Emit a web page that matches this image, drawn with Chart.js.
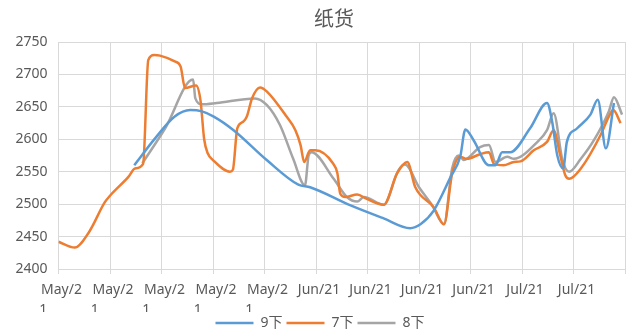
<!DOCTYPE html>
<html lang="zh">
<head>
    <meta charset="utf-8">
    <title>纸货</title>
    <style>
        body {
            margin: 0;
            background: #ffffff;
        }

        .chart-box {
            width: 626px;
            height: 335px;
        }
    </style>
</head>
<body>
    <div class="chart-box">
        <canvas id="paper-chart" width="626" height="335"></canvas>
    </div>

    <script src="https://cdn.jsdelivr.net/npm/chart.js@4.4.1/dist/chart.umd.min.js"></script>
    <script>
        // x axis runs in days from the first May label, one label every 7 days
        const xTickLabels = ["May/21", "May/21", "May/21", "May/21", "May/21",
                             "Jun/21", "Jun/21", "Jun/21", "Jun/21", "Jul/21", "Jul/21"];
        const yTicks = [2400, 2750, 50];

        const seriesNames = ["9下", "7下", "8下"];
        const seriesColors = ["#5B9BD5", "#ED7D31", "#A5A5A5"];

        // 9下
        const days9 = [10.3, 13.1, 15.8, 17.9, 19.5, 21.1, 23.8, 28.3, 32.6, 34.2, 39.7, 44.2,
                       47.8, 49.2, 51.0, 53.3, 54.6, 55.3, 56.4, 58.5, 59.4, 60.3, 61.4, 64.1,
                       66.4, 67.1, 67.8, 68.6, 69.1, 70.5, 72.3, 73.3, 74.4, 75.5];
        const values9 = [2560, 2601, 2635, 2645, 2643, 2635, 2614, 2568, 2530, 2526, 2498, 2478,
                         2463, 2469, 2490, 2542, 2573, 2615, 2599, 2560, 2560, 2580, 2580, 2617,
                         2656, 2627, 2575, 2555, 2596, 2617, 2638, 2661, 2586, 2656];

        // 7下
        const days7 = [0, 2.2, 4.1, 6.3, 7.0, 9.5, 10.4, 11.5, 12.2, 13.0, 13.8, 15.8, 16.6, 17.2,
                       18.7, 19.3, 19.8, 20.3, 21.0, 23.3, 23.7, 24.3, 25.1, 25.6, 26.3, 27.4,
                       28.3, 31.0, 32.2, 32.9, 33.4, 34.2, 34.9, 37.3, 37.9, 38.3, 39.0, 40.6,
                       41.9, 44.2, 46.0, 47.4, 48.5, 51.0, 52.4, 53.5, 54.6, 55.5, 57.3, 58.5,
                       59.2, 60.5, 61.9, 62.8, 64.6, 66.4, 67.3, 68.2, 68.9, 69.4, 71.0, 73.7,
                       74.8, 75.4, 76.4];
        const values7 = [2442, 2433, 2456, 2503, 2513, 2542, 2555, 2562, 2722, 2730, 2729, 2720, 2712, 2679,
                         2683, 2660, 2600, 2578, 2568, 2550, 2553, 2617, 2627, 2635, 2663, 2680,
                         2674, 2635, 2614, 2591, 2565, 2583, 2583, 2563, 2548, 2516, 2511, 2515,
                         2508, 2499, 2547, 2565, 2526, 2495, 2469, 2547, 2573, 2570, 2577, 2580,
                         2562, 2560, 2565, 2566, 2583, 2596, 2614, 2575, 2544, 2539, 2555, 2607,
                         2635, 2645, 2625];

        // 8下
        const days8 = [11.4, 14.5, 18.3, 18.6, 19.5, 21.5, 26.7, 28.3, 30.1, 31.9, 33.5, 34.0,
                       34.4, 37.4, 39.2, 40.6, 41.5, 44.2, 46.2, 47.1, 49.0, 50.8, 52.4, 53.5,
                       54.4, 55.1, 57.3, 58.5, 59.4, 61.0, 61.9, 65.1, 66.4, 67.3, 68.5, 69.4,
                       71.0, 72.8, 74.8, 75.5, 76.6];
        const values8 = [2563, 2617, 2692, 2663, 2654, 2656, 2663, 2653, 2622, 2570, 2529, 2575,
                         2580, 2539, 2511, 2504, 2511, 2499, 2552, 2561, 2526, 2498, 2469, 2555,
                         2575, 2568, 2588, 2591, 2565, 2573, 2570, 2596, 2614, 2640, 2568, 2550,
                         2570, 2599, 2643, 2665, 2638];

        const textColor = "#595959";
        const gridColor = "#D9D9D9";
        const baseFont = "'Noto Sans', 'Noto Sans CJK SC', sans-serif";

        const toPoints = (days, values) => days.map((d, i) => ({ x: d, y: values[i] }));

        function makeSeries(idx, days, values) {
            return {
                label: seriesNames[idx],
                data: toPoints(days, values),
                borderColor: seriesColors[idx],
                backgroundColor: seriesColors[idx],
                borderWidth: 2.5,
                pointRadius: 0,
                pointStyle: "line",
                cubicInterpolationMode: "monotone",
                fill: false
            };
        }

        // chart title sits a bit right of centre, like the original
        const titlePlugin = {
            id: "paperTitle",
            afterDraw(chart) {
                const ctx = chart.ctx;
                ctx.save();
                ctx.font = "20px 'Noto Sans CJK SC', sans-serif";
                ctx.fillStyle = textColor;
                ctx.textAlign = "center";
                ctx.textBaseline = "middle";
                ctx.fillText("纸货", 334, 18);
                ctx.restore();
            }
        };

        const chart = new Chart(document.getElementById("paper-chart"), {
            type: "line",
            data: {
                datasets: [
                    makeSeries(0, days9, values9),
                    makeSeries(1, days7, values7),
                    makeSeries(2, days8, values8)
                ]
            },
            plugins: [titlePlugin],
            options: {
                responsive: false,
                animation: false,
                layout: {
                    padding: { left: 15, right: 1, top: 42, bottom: -5 }
                },
                scales: {
                    x: {
                        type: "linear",
                        min: 0,
                        max: xTickLabels.length * 7,
                        afterFit: (scale) => {
                            scale.height = 43;
                            scale.paddingLeft = 0;
                            scale.paddingRight = 0;
                        },
                        grid: { color: gridColor, lineWidth: 1, tickLength: 5 },
                        border: { color: gridColor },
                        ticks: {
                            stepSize: 7,
                            autoSkip: false,
                            maxRotation: 0,
                            padding: 6,
                            labelOffset: 3,
                            color: textColor,
                            font: { family: baseFont, size: 14, lineHeight: 1.45 },
                            callback: (value) => {
                                const label = xTickLabels[Math.round(value / 7)];
                                if (!label) return "";
                                // the May labels are too wide for their slot and wrap
                                if (label.startsWith("May")) return [label.slice(0, 5), label.slice(5).padEnd(11, "\u00a0")];
                                return label;
                            }
                        }
                    },
                    y: {
                        min: yTicks[0],
                        max: yTicks[1],
                        afterFit: (scale) => { scale.width = 43.5; },
                        grid: { color: gridColor, lineWidth: 1, drawTicks: false },
                        border: { display: false },
                        ticks: {
                            stepSize: yTicks[2],
                            padding: 11,
                            color: textColor,
                            font: { family: baseFont, size: 14 },
                            callback: (value) => String(value)
                        }
                    }
                },
                plugins: {
                    title: { display: false },
                    tooltip: { enabled: false },
                    legend: {
                        position: "bottom",
                        labels: {
                            usePointStyle: true,
                            pointStyleWidth: 38,
                            padding: 4,
                            color: textColor,
                            font: { family: baseFont, size: 14 }
                        }
                    }
                }
            }
        });
    </script>
</body>
</html>
